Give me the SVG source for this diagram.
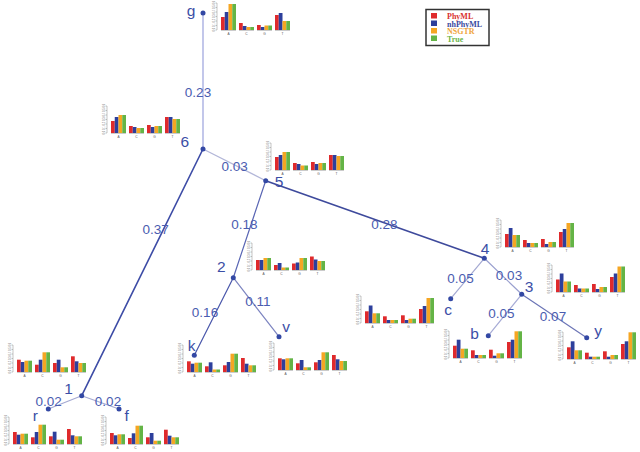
<svg xmlns="http://www.w3.org/2000/svg" xmlns:xlink="http://www.w3.org/1999/xlink" width="640" height="452" viewBox="0 0 640 452">
<style>
.lbl{font-family:"Liberation Sans","DejaVu Sans",sans-serif;font-size:15.5px;fill:#3b4ea6;text-anchor:middle}
.el{font-family:"Liberation Sans","DejaVu Sans",sans-serif;font-size:13.5px;fill:#4a5cb0;text-anchor:middle}
.dot{fill:#3348a4}
.r{fill:#df2a2c}.b{fill:#2d3f9c}.o{fill:#f5a623}.g{fill:#64b446}
.ax{stroke:#8a8a8a;stroke-width:0.5;fill:none}
.tk{font-family:"Liberation Sans",sans-serif;font-size:2.6px;fill:#777}
.cl{font-family:"Liberation Sans",sans-serif;font-size:3.2px;fill:#555;text-anchor:middle}
.lg{font-family:"Liberation Serif","DejaVu Serif",serif;font-size:8px;font-weight:bold}
</style>
<defs>
<g id="axes">
<path class="ax" d="M0,0V-27M-1.5,0H0M-1.5,-4.5H0M-1.5,-9H0M-1.5,-13.5H0M-1.5,-18H0M-1.5,-22.5H0M-1.5,-27H0"/>
<path class="ax" d="M4,0.4H19M22,0.4H37M40,0.4H55M58,0.4H73"/>
<g class="tk">
<text transform="translate(-2.2,1.5) rotate(-90)">0.0</text>
<text transform="translate(-2.2,-3) rotate(-90)">0.1</text>
<text transform="translate(-2.2,-7.5) rotate(-90)">0.2</text>
<text transform="translate(-2.2,-12) rotate(-90)">0.3</text>
<text transform="translate(-2.2,-16.5) rotate(-90)">0.4</text>
<text transform="translate(-2.2,-21) rotate(-90)">0.5</text>
<text transform="translate(-2.2,-25.5) rotate(-90)">0.6</text>
</g>
<text class="cl" x="11.5" y="4.5">A</text>
<text class="cl" x="29.5" y="4.5">C</text>
<text class="cl" x="47.5" y="4.5">G</text>
<text class="cl" x="65.5" y="4.5">T</text>
</g>
</defs>
<rect width="640" height="452" fill="#ffffff"/>

<g id="connectors" fill="none" stroke-linecap="round">
<path d="M203,13L203,149" stroke="#9aa2dc" stroke-width="1.2"/>
<path d="M203,149L265.7,180.7" stroke="#b2b6d8" stroke-width="1.2"/>
<path d="M203,149L81.7,395.7" stroke="#3d4ca6" stroke-width="1.6"/>
<path d="M265.7,180.7L233.3,277.7" stroke="#5a66b4" stroke-width="1.2"/>
<path d="M265.7,180.7L484.3,258.3" stroke="#3e4a9c" stroke-width="1.6"/>
<path d="M233.3,277.7L194.3,355.3" stroke="#4a57ab" stroke-width="1.2"/>
<path d="M233.3,277.7L279,336.7" stroke="#7c84c0" stroke-width="1.2"/>
<path d="M484.3,258.3L450.7,298.7" stroke="#a4a9d2" stroke-width="1.2"/>
<path d="M484.3,258.3L521.7,294.3" stroke="#9aa0cf" stroke-width="1.2"/>
<path d="M521.7,294.3L488.3,335.7" stroke="#a7acd6" stroke-width="1.2"/>
<path d="M521.7,294.3L586.7,337.7" stroke="#6c75b6" stroke-width="1.2"/>
<path d="M81.7,395.7L48.3,409" stroke="#a4a9d2" stroke-width="1.2"/>
<path d="M81.7,395.7L119,409" stroke="#a4a9d2" stroke-width="1.2"/>
<g>
<text class="el" x="198" y="96.7">0.23</text>
<text class="el" x="234.7" y="170.7">0.03</text>
<text class="el" x="155.7" y="234">0.37</text>
<text class="el" x="244.3" y="229">0.18</text>
<text class="el" x="384.3" y="229">0.28</text>
<text class="el" x="205" y="317.3">0.16</text>
<text class="el" x="258" y="306">0.11</text>
<text class="el" x="460.5" y="282.7">0.05</text>
<text class="el" x="509" y="280">0.03</text>
<text class="el" x="501.3" y="317.7">0.05</text>
<text class="el" x="553" y="321">0.07</text>
<text class="el" x="48.7" y="405.7">0.02</text>
<text class="el" x="108" y="405.7">0.02</text>
</g>
</g>

<g id="node-g">
<circle class="dot" cx="203" cy="13" r="2.5"/>
<text class="lbl" x="191" y="15.5">g</text>
<g transform="translate(217,30)"><use xlink:href="#axes"/>
<rect class="r" x="4" y="-13" width="3.75" height="13"/><rect class="b" x="7.75" y="-18" width="3.75" height="18"/><rect class="o" x="11.5" y="-26" width="3.75" height="26"/><rect class="g" x="15.25" y="-26" width="3.75" height="26"/>
<rect class="r" x="22" y="-7" width="3.75" height="7"/><rect class="b" x="25.75" y="-4" width="3.75" height="4"/><rect class="o" x="29.5" y="-3" width="3.75" height="3"/><rect class="g" x="33.25" y="-3" width="3.75" height="3"/>
<rect class="r" x="40" y="-5" width="3.75" height="5"/><rect class="b" x="43.75" y="-3" width="3.75" height="3"/><rect class="o" x="47.5" y="-4.5" width="3.75" height="4.5"/><rect class="g" x="51.25" y="-4.5" width="3.75" height="4.5"/>
<rect class="r" x="58" y="-15" width="3.75" height="15"/><rect class="b" x="61.75" y="-17" width="3.75" height="17"/><rect class="o" x="65.5" y="-9" width="3.75" height="9"/><rect class="g" x="69.25" y="-9" width="3.75" height="9"/>
</g>
</g>

<g id="node-6">
<circle class="dot" cx="203" cy="149" r="2.5"/>
<text class="lbl" x="184.7" y="147">6</text>
<g transform="translate(107,133)"><use xlink:href="#axes"/>
<rect class="r" x="4" y="-12" width="3.75" height="12"/><rect class="b" x="7.75" y="-16" width="3.75" height="16"/><rect class="o" x="11.5" y="-18" width="3.75" height="18"/><rect class="g" x="15.25" y="-18" width="3.75" height="18"/>
<rect class="r" x="22" y="-7" width="3.75" height="7"/><rect class="b" x="25.75" y="-6" width="3.75" height="6"/><rect class="o" x="29.5" y="-5" width="3.75" height="5"/><rect class="g" x="33.25" y="-5" width="3.75" height="5"/>
<rect class="r" x="40" y="-8" width="3.75" height="8"/><rect class="b" x="43.75" y="-6" width="3.75" height="6"/><rect class="o" x="47.5" y="-7" width="3.75" height="7"/><rect class="g" x="51.25" y="-7" width="3.75" height="7"/>
<rect class="r" x="58" y="-16" width="3.75" height="16"/><rect class="b" x="61.75" y="-16" width="3.75" height="16"/><rect class="o" x="65.5" y="-14" width="3.75" height="14"/><rect class="g" x="69.25" y="-14" width="3.75" height="14"/>
</g>
</g>

<g id="node-5">
<circle class="dot" cx="265.7" cy="180.7" r="2.5"/>
<text class="lbl" x="279" y="187">5</text>
<g transform="translate(271,170)"><use xlink:href="#axes"/>
<rect class="r" x="4" y="-13" width="3.75" height="13"/><rect class="b" x="7.75" y="-15" width="3.75" height="15"/><rect class="o" x="11.5" y="-18" width="3.75" height="18"/><rect class="g" x="15.25" y="-18" width="3.75" height="18"/>
<rect class="r" x="22" y="-7" width="3.75" height="7"/><rect class="b" x="25.75" y="-6" width="3.75" height="6"/><rect class="o" x="29.5" y="-4.5" width="3.75" height="4.5"/><rect class="g" x="33.25" y="-4.5" width="3.75" height="4.5"/>
<rect class="r" x="40" y="-8" width="3.75" height="8"/><rect class="b" x="43.75" y="-6" width="3.75" height="6"/><rect class="o" x="47.5" y="-7" width="3.75" height="7"/><rect class="g" x="51.25" y="-7" width="3.75" height="7"/>
<rect class="r" x="58" y="-15" width="3.75" height="15"/><rect class="b" x="61.75" y="-15" width="3.75" height="15"/><rect class="o" x="65.5" y="-14" width="3.75" height="14"/><rect class="g" x="69.25" y="-14" width="3.75" height="14"/>
</g>
</g>

<g id="node-4">
<circle class="dot" cx="484.3" cy="258.3" r="2.5"/>
<text class="lbl" x="485" y="253.5">4</text>
<g transform="translate(501,247)"><use xlink:href="#axes"/>
<rect class="r" x="4" y="-13" width="3.75" height="13"/><rect class="b" x="7.75" y="-19" width="3.75" height="19"/><rect class="o" x="11.5" y="-12" width="3.75" height="12"/><rect class="g" x="15.25" y="-12" width="3.75" height="12"/>
<rect class="r" x="22" y="-7" width="3.75" height="7"/><rect class="b" x="25.75" y="-4" width="3.75" height="4"/><rect class="o" x="29.5" y="-4" width="3.75" height="4"/><rect class="g" x="33.25" y="-4" width="3.75" height="4"/>
<rect class="r" x="40" y="-8" width="3.75" height="8"/><rect class="b" x="43.75" y="-3" width="3.75" height="3"/><rect class="o" x="47.5" y="-5" width="3.75" height="5"/><rect class="g" x="51.25" y="-5" width="3.75" height="5"/>
<rect class="r" x="58" y="-15" width="3.75" height="15"/><rect class="b" x="61.75" y="-18" width="3.75" height="18"/><rect class="o" x="65.5" y="-24" width="3.75" height="24"/><rect class="g" x="69.25" y="-24" width="3.75" height="24"/>
</g>
</g>

<g id="node-3">
<circle class="dot" cx="521.7" cy="294.3" r="2.5"/>
<text class="lbl" x="529" y="291.5">3</text>
<g transform="translate(552,292)"><use xlink:href="#axes"/>
<rect class="r" x="4" y="-12.5" width="3.75" height="12.5"/><rect class="b" x="7.75" y="-18.5" width="3.75" height="18.5"/><rect class="o" x="11.5" y="-10.5" width="3.75" height="10.5"/><rect class="g" x="15.25" y="-10.5" width="3.75" height="10.5"/>
<rect class="r" x="22" y="-7" width="3.75" height="7"/><rect class="b" x="25.75" y="-3.5" width="3.75" height="3.5"/><rect class="o" x="29.5" y="-3.5" width="3.75" height="3.5"/><rect class="g" x="33.25" y="-3.5" width="3.75" height="3.5"/>
<rect class="r" x="40" y="-8" width="3.75" height="8"/><rect class="b" x="43.75" y="-3" width="3.75" height="3"/><rect class="o" x="47.5" y="-5" width="3.75" height="5"/><rect class="g" x="51.25" y="-5" width="3.75" height="5"/>
<rect class="r" x="58" y="-15" width="3.75" height="15"/><rect class="b" x="61.75" y="-18.5" width="3.75" height="18.5"/><rect class="o" x="65.5" y="-25.5" width="3.75" height="25.5"/><rect class="g" x="69.25" y="-25.5" width="3.75" height="25.5"/>
</g>
</g>

<g id="node-2">
<circle class="dot" cx="233.3" cy="277.7" r="2.5"/>
<text class="lbl" x="221.3" y="271.5">2</text>
<g transform="translate(252,270)"><use xlink:href="#axes"/>
<rect class="r" x="4" y="-10" width="3.75" height="10"/><rect class="b" x="7.75" y="-10" width="3.75" height="10"/><rect class="o" x="11.5" y="-12" width="3.75" height="12"/><rect class="g" x="15.25" y="-12" width="3.75" height="12"/>
<rect class="r" x="22" y="-5" width="3.75" height="5"/><rect class="b" x="25.75" y="-7" width="3.75" height="7"/><rect class="o" x="29.5" y="-2.5" width="3.75" height="2.5"/><rect class="g" x="33.25" y="-2.5" width="3.75" height="2.5"/>
<rect class="r" x="40" y="-6.5" width="3.75" height="6.5"/><rect class="b" x="43.75" y="-7.5" width="3.75" height="7.5"/><rect class="o" x="47.5" y="-12" width="3.75" height="12"/><rect class="g" x="51.25" y="-12" width="3.75" height="12"/>
<rect class="r" x="58" y="-13.5" width="3.75" height="13.5"/><rect class="b" x="61.75" y="-10.5" width="3.75" height="10.5"/><rect class="o" x="65.5" y="-9" width="3.75" height="9"/><rect class="g" x="69.25" y="-9" width="3.75" height="9"/>
</g>
</g>

<g id="node-c">
<circle class="dot" cx="450.7" cy="298.7" r="2.5"/>
<text class="lbl" x="448" y="314.5">c</text>
<g transform="translate(361,323)"><use xlink:href="#axes"/>
<rect class="r" x="4" y="-11.7" width="3.75" height="11.7"/><rect class="b" x="7.75" y="-17.5" width="3.75" height="17.5"/><rect class="o" x="11.5" y="-9.7" width="3.75" height="9.7"/><rect class="g" x="15.25" y="-9.7" width="3.75" height="9.7"/>
<rect class="r" x="22" y="-6.7" width="3.75" height="6.7"/><rect class="b" x="25.75" y="-3" width="3.75" height="3"/><rect class="o" x="29.5" y="-3" width="3.75" height="3"/><rect class="g" x="33.25" y="-3" width="3.75" height="3"/>
<rect class="r" x="40" y="-7.7" width="3.75" height="7.7"/><rect class="b" x="43.75" y="-3" width="3.75" height="3"/><rect class="o" x="47.5" y="-4.3" width="3.75" height="4.3"/><rect class="g" x="51.25" y="-4.3" width="3.75" height="4.3"/>
<rect class="r" x="58" y="-14" width="3.75" height="14"/><rect class="b" x="61.75" y="-17" width="3.75" height="17"/><rect class="o" x="65.5" y="-25" width="3.75" height="25"/><rect class="g" x="69.25" y="-25" width="3.75" height="25"/>
</g>
</g>

<g id="node-b">
<circle class="dot" cx="488.3" cy="335.7" r="2.5"/>
<text class="lbl" x="474.5" y="338.8">b</text>
<g transform="translate(449,358)"><use xlink:href="#axes"/>
<rect class="r" x="4" y="-12.3" width="3.75" height="12.3"/><rect class="b" x="7.75" y="-18.3" width="3.75" height="18.3"/><rect class="o" x="11.5" y="-9.3" width="3.75" height="9.3"/><rect class="g" x="15.25" y="-9.3" width="3.75" height="9.3"/>
<rect class="r" x="22" y="-7.7" width="3.75" height="7.7"/><rect class="b" x="25.75" y="-3" width="3.75" height="3"/><rect class="o" x="29.5" y="-3" width="3.75" height="3"/><rect class="g" x="33.25" y="-3" width="3.75" height="3"/>
<rect class="r" x="40" y="-8.3" width="3.75" height="8.3"/><rect class="b" x="43.75" y="-2.3" width="3.75" height="2.3"/><rect class="o" x="47.5" y="-4.7" width="3.75" height="4.7"/><rect class="g" x="51.25" y="-4.7" width="3.75" height="4.7"/>
<rect class="r" x="58" y="-16" width="3.75" height="16"/><rect class="b" x="61.75" y="-18.3" width="3.75" height="18.3"/><rect class="o" x="65.5" y="-26.7" width="3.75" height="26.7"/><rect class="g" x="69.25" y="-26.7" width="3.75" height="26.7"/>
</g>
</g>

<g id="node-y">
<circle class="dot" cx="586.7" cy="337.7" r="2.5"/>
<text class="lbl" x="598" y="335.5">y</text>
<g transform="translate(563,359)"><use xlink:href="#axes"/>
<rect class="r" x="4" y="-11.7" width="3.75" height="11.7"/><rect class="b" x="7.75" y="-17.7" width="3.75" height="17.7"/><rect class="o" x="11.5" y="-8.7" width="3.75" height="8.7"/><rect class="g" x="15.25" y="-8.7" width="3.75" height="8.7"/>
<rect class="r" x="22" y="-6.3" width="3.75" height="6.3"/><rect class="b" x="25.75" y="-2.3" width="3.75" height="2.3"/><rect class="o" x="29.5" y="-2.3" width="3.75" height="2.3"/><rect class="g" x="33.25" y="-2.3" width="3.75" height="2.3"/>
<rect class="r" x="40" y="-7.7" width="3.75" height="7.7"/><rect class="b" x="43.75" y="-2.3" width="3.75" height="2.3"/><rect class="o" x="47.5" y="-4" width="3.75" height="4"/><rect class="g" x="51.25" y="-4" width="3.75" height="4"/>
<rect class="r" x="58" y="-15" width="3.75" height="15"/><rect class="b" x="61.75" y="-17.7" width="3.75" height="17.7"/><rect class="o" x="65.5" y="-26.7" width="3.75" height="26.7"/><rect class="g" x="69.25" y="-26.7" width="3.75" height="26.7"/>
</g>
</g>

<g id="node-k">
<circle class="dot" cx="194.3" cy="355.3" r="2.5"/>
<text class="lbl" x="191.5" y="351">k</text>
<g transform="translate(183,372)"><use xlink:href="#axes"/>
<rect class="r" x="4" y="-10.7" width="3.75" height="10.7"/><rect class="b" x="7.75" y="-8.3" width="3.75" height="8.3"/><rect class="o" x="11.5" y="-9.3" width="3.75" height="9.3"/><rect class="g" x="15.25" y="-9.3" width="3.75" height="9.3"/>
<rect class="r" x="22" y="-5.7" width="3.75" height="5.7"/><rect class="b" x="25.75" y="-9.7" width="3.75" height="9.7"/><rect class="o" x="29.5" y="-2.5" width="3.75" height="2.5"/><rect class="g" x="33.25" y="-2.5" width="3.75" height="2.5"/>
<rect class="r" x="40" y="-6.7" width="3.75" height="6.7"/><rect class="b" x="43.75" y="-10" width="3.75" height="10"/><rect class="o" x="47.5" y="-18.3" width="3.75" height="18.3"/><rect class="g" x="51.25" y="-18.3" width="3.75" height="18.3"/>
<rect class="r" x="58" y="-14" width="3.75" height="14"/><rect class="b" x="61.75" y="-8.3" width="3.75" height="8.3"/><rect class="o" x="65.5" y="-6.7" width="3.75" height="6.7"/><rect class="g" x="69.25" y="-6.7" width="3.75" height="6.7"/>
</g>
</g>

<g id="node-v">
<circle class="dot" cx="279" cy="336.7" r="2.5"/>
<text class="lbl" x="286" y="331.5">v</text>
<g transform="translate(274,370)"><use xlink:href="#axes"/>
<rect class="r" x="4" y="-11.7" width="3.75" height="11.7"/><rect class="b" x="7.75" y="-10.7" width="3.75" height="10.7"/><rect class="o" x="11.5" y="-11.7" width="3.75" height="11.7"/><rect class="g" x="15.25" y="-11.7" width="3.75" height="11.7"/>
<rect class="r" x="22" y="-6.7" width="3.75" height="6.7"/><rect class="b" x="25.75" y="-10" width="3.75" height="10"/><rect class="o" x="29.5" y="-2.7" width="3.75" height="2.7"/><rect class="g" x="33.25" y="-2.7" width="3.75" height="2.7"/>
<rect class="r" x="40" y="-7.7" width="3.75" height="7.7"/><rect class="b" x="43.75" y="-10" width="3.75" height="10"/><rect class="o" x="47.5" y="-17.7" width="3.75" height="17.7"/><rect class="g" x="51.25" y="-17.7" width="3.75" height="17.7"/>
<rect class="r" x="58" y="-15" width="3.75" height="15"/><rect class="b" x="61.75" y="-10.7" width="3.75" height="10.7"/><rect class="o" x="65.5" y="-9" width="3.75" height="9"/><rect class="g" x="69.25" y="-9" width="3.75" height="9"/>
</g>
</g>

<g id="node-1">
<circle class="dot" cx="81.7" cy="395.7" r="2.5"/>
<text class="lbl" x="68.5" y="393.5">1</text>
<g transform="translate(13,372)"><use xlink:href="#axes"/>
<rect class="r" x="4" y="-12.3" width="3.75" height="12.3"/><rect class="b" x="7.75" y="-10" width="3.75" height="10"/><rect class="o" x="11.5" y="-11.3" width="3.75" height="11.3"/><rect class="g" x="15.25" y="-11.3" width="3.75" height="11.3"/>
<rect class="r" x="22" y="-7.3" width="3.75" height="7.3"/><rect class="b" x="25.75" y="-12.3" width="3.75" height="12.3"/><rect class="o" x="29.5" y="-19.7" width="3.75" height="19.7"/><rect class="g" x="33.25" y="-19.7" width="3.75" height="19.7"/>
<rect class="r" x="40" y="-9" width="3.75" height="9"/><rect class="b" x="43.75" y="-12.3" width="3.75" height="12.3"/><rect class="o" x="47.5" y="-4.7" width="3.75" height="4.7"/><rect class="g" x="51.25" y="-4.7" width="3.75" height="4.7"/>
<rect class="r" x="58" y="-15.7" width="3.75" height="15.7"/><rect class="b" x="61.75" y="-10.7" width="3.75" height="10.7"/><rect class="o" x="65.5" y="-9" width="3.75" height="9"/><rect class="g" x="69.25" y="-9" width="3.75" height="9"/>
</g>
</g>

<g id="node-r">
<circle class="dot" cx="48.3" cy="409" r="2.5"/>
<text class="lbl" x="35.3" y="420.5">r</text>
<g transform="translate(9,444)"><use xlink:href="#axes"/>
<rect class="r" x="4" y="-12" width="3.75" height="12"/><rect class="b" x="7.75" y="-9.3" width="3.75" height="9.3"/><rect class="o" x="11.5" y="-10.3" width="3.75" height="10.3"/><rect class="g" x="15.25" y="-10.3" width="3.75" height="10.3"/>
<rect class="r" x="22" y="-6.7" width="3.75" height="6.7"/><rect class="b" x="25.75" y="-12" width="3.75" height="12"/><rect class="o" x="29.5" y="-19.3" width="3.75" height="19.3"/><rect class="g" x="33.25" y="-19.3" width="3.75" height="19.3"/>
<rect class="r" x="40" y="-7.7" width="3.75" height="7.7"/><rect class="b" x="43.75" y="-12.3" width="3.75" height="12.3"/><rect class="o" x="47.5" y="-4.3" width="3.75" height="4.3"/><rect class="g" x="51.25" y="-4.3" width="3.75" height="4.3"/>
<rect class="r" x="58" y="-15" width="3.75" height="15"/><rect class="b" x="61.75" y="-8.7" width="3.75" height="8.7"/><rect class="o" x="65.5" y="-7.7" width="3.75" height="7.7"/><rect class="g" x="69.25" y="-7.7" width="3.75" height="7.7"/>
</g>
</g>

<g id="node-f">
<circle class="dot" cx="119" cy="409" r="2.5"/>
<text class="lbl" x="126.7" y="420.5">f</text>
<g transform="translate(106,444)"><use xlink:href="#axes"/>
<rect class="r" x="4" y="-11" width="3.75" height="11"/><rect class="b" x="7.75" y="-8.7" width="3.75" height="8.7"/><rect class="o" x="11.5" y="-9.7" width="3.75" height="9.7"/><rect class="g" x="15.25" y="-9.7" width="3.75" height="9.7"/>
<rect class="r" x="22" y="-6" width="3.75" height="6"/><rect class="b" x="25.75" y="-10.7" width="3.75" height="10.7"/><rect class="o" x="29.5" y="-18.3" width="3.75" height="18.3"/><rect class="g" x="33.25" y="-18.3" width="3.75" height="18.3"/>
<rect class="r" x="40" y="-6.7" width="3.75" height="6.7"/><rect class="b" x="43.75" y="-11" width="3.75" height="11"/><rect class="o" x="47.5" y="-3.3" width="3.75" height="3.3"/><rect class="g" x="51.25" y="-3.3" width="3.75" height="3.3"/>
<rect class="r" x="58" y="-14.3" width="3.75" height="14.3"/><rect class="b" x="61.75" y="-8.3" width="3.75" height="8.3"/><rect class="o" x="65.5" y="-6.7" width="3.75" height="6.7"/><rect class="g" x="69.25" y="-6.7" width="3.75" height="6.7"/>
</g>
</g>

<g id="legend">
<rect x="426" y="9.5" width="63" height="36" fill="#ffffff" stroke="#333333" stroke-width="1.5"/>
<rect class="r" x="431" y="13" width="6" height="5.5"/>
<rect class="b" x="431" y="20.5" width="6" height="5.5"/>
<rect class="o" x="431" y="28" width="6" height="5.5"/>
<rect class="g" x="431" y="35.5" width="6" height="5.5"/>
<text class="lg" x="447" y="19.3" fill="#d8322f">PhyML</text>
<text class="lg" x="447" y="26.8" fill="#3a4a9e">nhPhyML</text>
<text class="lg" x="447" y="34.3" fill="#f0a640">NSGTR</text>
<text class="lg" x="447" y="41.8" fill="#6db54b">True</text>
</g>
</svg>
